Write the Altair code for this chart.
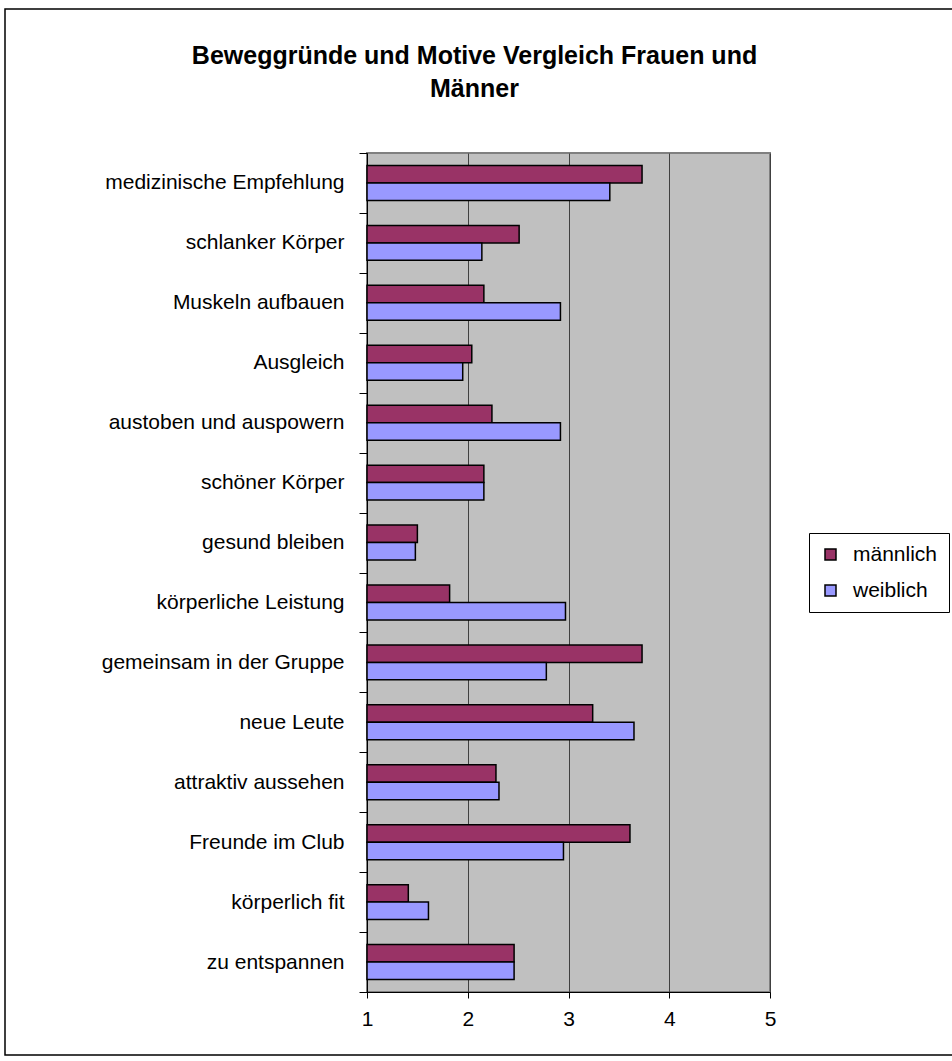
import altair as alt
import pandas as pd

categories = [
    "medizinische Empfehlung",
    "schlanker Körper",
    "Muskeln aufbauen",
    "Ausgleich ",
    "austoben und auspowern",
    "schöner Körper",
    "gesund bleiben",
    "körperliche Leistung",
    "gemeinsam in der Gruppe",
    "neue Leute",
    "attraktiv aussehen",
    "Freunde im Club",
    "körperlich fit",
    "zu entspannen",
]
maennlich = [3.73, 2.51, 2.16, 2.04, 2.24, 2.16, 1.50, 1.82, 3.73, 3.24, 2.28, 3.61, 1.41, 2.46]
weiblich = [3.41, 2.14, 2.92, 1.95, 2.92, 2.16, 1.48, 2.97, 2.78, 3.65, 2.31, 2.95, 1.61, 2.46]
series = ["männlich", "weiblich"]
colors = ["#993366", "#9999FF"]
x_ticks = [1, 2, 3, 4, 5]

rows = []
for c, m, w in zip(categories, maennlich, weiblich):
    rows.append({"Motiv": c, "Geschlecht": series[0], "Wert": m})
    rows.append({"Motiv": c, "Geschlecht": series[1], "Wert": w})
df = pd.DataFrame(rows)

FONT = "Liberation Sans"

bars = alt.Chart(df).mark_bar(stroke="black", strokeWidth=1.5, clip=False).encode(
    y=alt.Y(
        "Motiv:N",
        sort=categories,
        scale=alt.Scale(paddingInner=0, paddingOuter=0),
        axis=alt.Axis(
            title=None,
            labelFont=FONT,
            labelFontSize=21,
            labelColor="black",
            labelLimit=400,
            labelPadding=15,
            tickBand="extent",
            tickSize=8,
            tickColor="black",
            domainColor="black",
            domainWidth=1,
            grid=False,
        ),
    ),
    yOffset=alt.YOffset(
        "Geschlecht:N",
        sort=series,
        scale=alt.Scale(paddingInner=0, paddingOuter=0.714),
    ),
    x=alt.X(
        "Wert:Q",
        scale=alt.Scale(domain=[1, 5], zero=False, nice=False),
        axis=alt.Axis(
            title=None,
            values=x_ticks,
            format="d",
            labelFont=FONT,
            labelFontSize=21,
            labelColor="black",
            labelPadding=10,
            labelFlush=False,
            tickSize=6,
            tickColor="black",
            domainColor="black",
            grid=True,
            gridColor="#404040",
            gridWidth=1,
        ),
    ),
    x2=alt.datum(1),
    color=alt.Color(
        "Geschlecht:N",
        sort=series,
        scale=alt.Scale(domain=series, range=colors),
        legend=alt.Legend(
            title=None,
            orient="none",
            legendX=442,
            legendY=380,
            padding=11,
            strokeColor="black",
            symbolType="square",
            symbolSize=121,
            symbolStrokeColor="black",
            symbolStrokeWidth=1.5,
            labelFont=FONT,
            labelFontSize=21,
            labelColor="black",
            labelOffset=12,
            rowPadding=14,
        ),
    ),
)

frame = alt.Chart(pd.DataFrame({"k": [0]})).mark_rect(
    fill=None, stroke="black", strokeWidth=1.5, clip=False
).encode(
    x=alt.value(-362), x2=alt.value(600), y=alt.value(-144), y2=alt.value(902)
)

chart = (
    alt.layer(frame, bars)
    .properties(
        width=403,
        height=839,
        background="white",
        padding={"left": 367, "top": 153, "right": 182, "bottom": 69},
        autosize=alt.AutoSizeParams(type="none"),
        title=alt.TitleParams(
            text=["Beweggründe und Motive Vergleich Frauen und", "Männer"],
            font=FONT,
            fontSize=25,
            fontWeight="bold",
            color="black",
            anchor="middle",
            frame="group",
            dx=-94,
            dy=146,
            offset=52,
            lineHeight=33,
        ),
    )
    .configure_view(fill="#C0C0C0", stroke="#808080", strokeWidth=2)
)

chart.save("out.html", embed_options={"renderer": "svg", "actions": False})
